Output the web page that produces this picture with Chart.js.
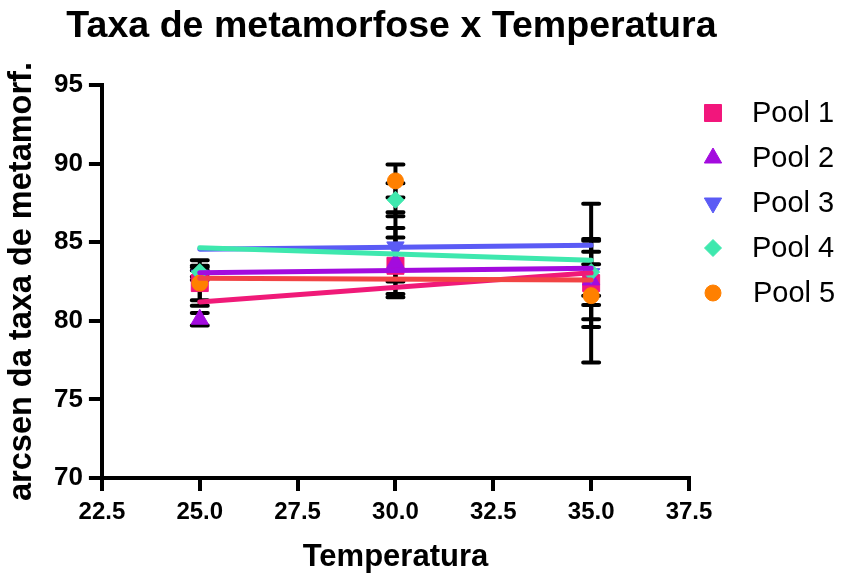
<!DOCTYPE html>
<html><head><meta charset="utf-8">
<script src="https://cdn.jsdelivr.net/npm/chart.js@4/dist/chart.umd.min.js"></script>
<style>html,body{margin:0;padding:0;background:#fff}#wrap{width:845px;height:576px;position:relative}</style>
</head><body><div id="wrap"><canvas id="c"></canvas></div>
<script>
// ---- data ----
const chartTitle = 'Taxa de metamorfose x Temperatura';
const temperatures = [25, 30, 35];
const poolLabels = ['Pool 1', 'Pool 2', 'Pool 3', 'Pool 4', 'Pool 5'];
const pool1Mean = [82.4, 83.5, 82.4];
const pool2Mean = [80.1, 83.7, 82.6];
const pool3Mean = [82.9, 84.7, 83.0];
const pool4Mean = [83.1, 87.7, 83.1];
const pool5Mean = [82.4, 88.9, 81.6];
const pool1Err = [1.45, 1.8, 5.05];
const pool2Err = [0.4, 2.2, 2.5];
const pool3Err = [0.3, 2.2, 1.4];
const pool4Err = [0.3, 1.05, 2.1];
const pool5Err = [1.1, 1.05, 2.0];
const fitX = [25, 35];
const fitPink = [81.2, 83.05];
const fitRed = [82.7, 82.6];
const fitPurple = [83.05, 83.35];
const fitBlue = [84.55, 84.8];
const fitTeal = [84.65, 83.85];
const xTicks = [22.5, 25, 27.5, 30, 32.5, 35, 37.5];
const xTickLabels = ['22.5', '25.0', '27.5', '30.0', '32.5', '35.0', '37.5'];
const yTicks = [70, 75, 80, 85, 90, 95];
const yTickLabels = ['70', '75', '80', '85', '90', '95'];

const FONT = "'Liberation Sans', Arial, sans-serif";
Chart.defaults.font.family = FONT;
Chart.defaults.color = '#000';

const toPts = (ys) => ys.map((y, i) => ({ x: temperatures[i], y }));
const toFit = (ys) => ys.map((y, i) => ({ x: fitX[i], y }));

function poolDs(label, means, errs, color, style, radius, rotation, order) {
  return {
    label, data: toPts(means), errors: errs, legendShow: true,
    backgroundColor: color, borderColor: color, pointBackgroundColor: color, pointBorderColor: color,
    pointStyle: style, pointRadius: radius, pointHoverRadius: radius, rotation: rotation || 0,
    pointBorderWidth: 1, showLine: false, order
  };
}
function fitDs(ys, color, order) {
  return {
    label: 'fit', data: toFit(ys), showLine: true, borderColor: color, backgroundColor: color,
    borderWidth: 5, borderCapStyle: 'round', pointRadius: 0, pointHoverRadius: 0, order, clip: false
  };
}

const datasets = [
  poolDs(poolLabels[0], pool1Mean, pool1Err, '#F2167C', 'rect', 12, 0, 14),
  poolDs(poolLabels[1], pool2Mean, pool2Err, '#A30BDE', 'triangle', 10, 0, 13),
  poolDs(poolLabels[2], pool3Mean, pool3Err, '#5B5BF5', 'triangle', 10, 180, 12),
  poolDs(poolLabels[3], pool4Mean, pool4Err, '#3EE8AE', 'rectRot', 8.5, 0, 11),
  poolDs(poolLabels[4], pool5Mean, pool5Err, '#FF8000', 'circle', 8, 0, 10),
  fitDs(fitPink, '#F01A78', 4),
  fitDs(fitRed, '#F24444', 3),
  fitDs(fitPurple, '#A30BDE', 2),
  fitDs(fitBlue, '#5B5BF5', 1),
  fitDs(fitTeal, '#3EE8AE', 0)
];

const errorBars = {
  id: 'errorBars',
  beforeDatasetsDraw(chart) {
    const ctx = chart.ctx, xs = chart.scales.x, ys = chart.scales.y;
    ctx.save();
    ctx.strokeStyle = '#000'; ctx.lineWidth = 4; ctx.lineCap = 'round';
    chart.data.datasets.forEach(ds => {
      if (!ds.errors) return;
      ds.data.forEach((p, i) => {
        const e = ds.errors[i];
        const x = xs.getPixelForValue(p.x);
        const yt = ys.getPixelForValue(p.y + e), yb = ys.getPixelForValue(p.y - e);
        ctx.beginPath();
        ctx.moveTo(x, yt); ctx.lineTo(x, yb);
        ctx.moveTo(x - 8, yt); ctx.lineTo(x + 8, yt);
        ctx.moveTo(x - 8, yb); ctx.lineTo(x + 8, yb);
        ctx.stroke();
      });
    });
    ctx.restore();
  }
};

const topTitle = {
  id: 'topTitle',
  afterDraw(chart) {
    const ctx = chart.ctx, area = chart.chartArea;
    ctx.save();
    ctx.fillStyle = '#000';
    ctx.font = 'bold 37.6px ' + FONT;
    ctx.textAlign = 'center'; ctx.textBaseline = 'middle';
    ctx.fillText(chartTitle, (area.left + area.right) / 2 - 4, 27);
    ctx.restore();
  }
};

const sideLegend = {
  id: 'sideLegend',
  afterDraw(chart) {
    const ctx = chart.ctx, area = chart.chartArea;
    const mx = area.right + 24, tx = area.right + 63;
    let i = 0;
    ctx.save();
    chart.data.datasets.forEach(ds => {
      if (!ds.legendShow) return;
      const y = area.top + 28 + i * 45;
      ctx.fillStyle = ds.backgroundColor; ctx.strokeStyle = ds.borderColor; ctx.lineWidth = 1;
      Chart.helpers.drawPoint(ctx, { pointStyle: ds.pointStyle, rotation: ds.rotation, radius: ds.pointRadius, borderWidth: 1 }, mx, y);
      ctx.fillStyle = '#000';
      ctx.font = 'normal 29px ' + FONT;
      ctx.textBaseline = 'middle'; ctx.textAlign = 'left';
      ctx.fillText(ds.label, tx + (i === 4 ? 1 : 0), y + 1);
      i++;
    });
    ctx.restore();
  }
};

new Chart(document.getElementById('c'), {
  type: 'scatter',
  data: { datasets },
  plugins: [errorBars, topTitle, sideLegend],
  options: {
    responsive: true, maintainAspectRatio: false, animation: false,
    layout: { padding: { left: 0, right: 156, top: 85, bottom: 0 } },
    plugins: {
      legend: { display: false },
      tooltip: { enabled: false },
      title: { display: false }
    },
    scales: {
      x: {
        type: 'linear', min: 22.5, max: 37.5,
        afterBuildTicks: (s) => { s.ticks = xTicks.map(v => ({ value: v })); },
        ticks: { callback: (v, i) => xTickLabels[i], font: { size: 24, weight: 'bold' }, color: '#000', padding: 7, maxRotation: 0, autoSkip: false },
        grid: { display: true, drawOnChartArea: false, drawTicks: true, tickLength: 13, tickWidth: 4, tickColor: '#000', color: '#000', lineWidth: 4 },
        border: { display: true, color: '#000', width: 4 },
        title: { display: true, text: 'Temperatura', color: '#000', font: { size: 31, weight: 'bold' }, padding: { top: 5, bottom: 0 } }
      },
      y: {
        type: 'linear', min: 70, max: 95,
        afterBuildTicks: (s) => { s.ticks = yTicks.map(v => ({ value: v })); },
        ticks: { callback: (v, i) => yTickLabels[i], font: { size: 26, weight: 'bold' }, color: '#000', padding: 6, autoSkip: false },
        grid: { display: true, drawOnChartArea: false, drawTicks: true, tickLength: 13, tickWidth: 4, tickColor: '#000', color: '#000', lineWidth: 4 },
        border: { display: true, color: '#000', width: 4 },
        title: { display: true, text: 'arcsen da taxa de metamorf.', color: '#000', font: { size: 32.5, weight: 'bold' }, padding: { top: 3, bottom: 6 } }
      }
    }
  }
});
</script>
</body></html>
